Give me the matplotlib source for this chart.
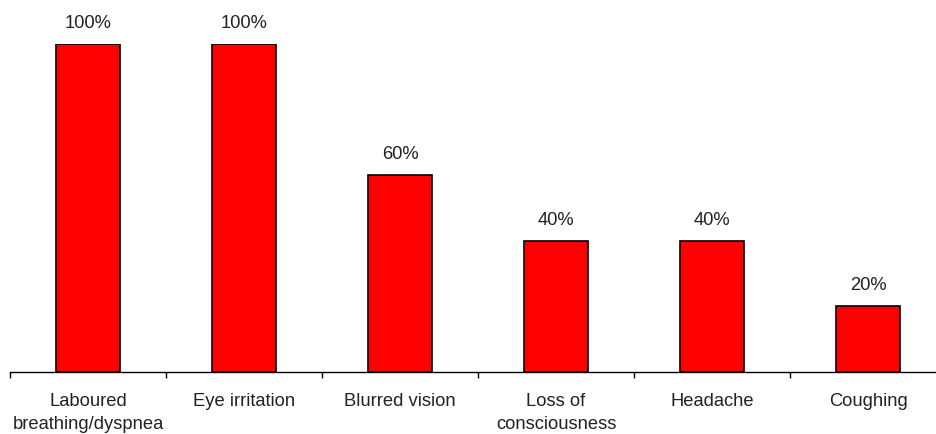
import matplotlib
matplotlib.use("Agg")
import matplotlib.pyplot as plt
import numpy as np

categories = ["Laboured\nbreathing/dyspnea", "Eye irritation", "Blurred vision",
              "Loss of\nconsciousness", "Headache", "Coughing"]
values = [100, 100, 60, 40, 40, 20]

plt.rcParams.update({"font.family": ["Liberation Sans", "DejaVu Sans"], "font.size": 13.2})

fig = plt.figure(figsize=(9.36, 4.34), dpi=100)
ax = fig.add_axes([10 / 936, 62 / 434, 936 / 936, 328 / 434])

x = np.arange(len(categories))
ax.bar(x, values, width=0.41, color="#ff0000", edgecolor="black", linewidth=1.2)
for xi, v in zip(x, values):
    ax.text(xi, v + 4.9, f"{v}%", ha="center", va="baseline", color="#222222")

ax.set_xlim(-0.5, len(categories) - 0.5)
ax.set_ylim(0, 100)
for s in ("left", "top", "right"):
    ax.spines[s].set_visible(False)
ax.spines["bottom"].set_linewidth(1.0)
ax.set_yticks([])
ax.set_xticks(x)
ax.set_xticklabels(categories, color="#222222", linespacing=1.45)
ax.tick_params(axis="x", which="major", length=0, pad=15)
ax.set_xticks(np.arange(-0.5, len(categories) + 0.5, 1), minor=True)
ax.tick_params(axis="x", which="minor", length=4.5, width=1.0)

fig.savefig("out.png", dpi=100)
